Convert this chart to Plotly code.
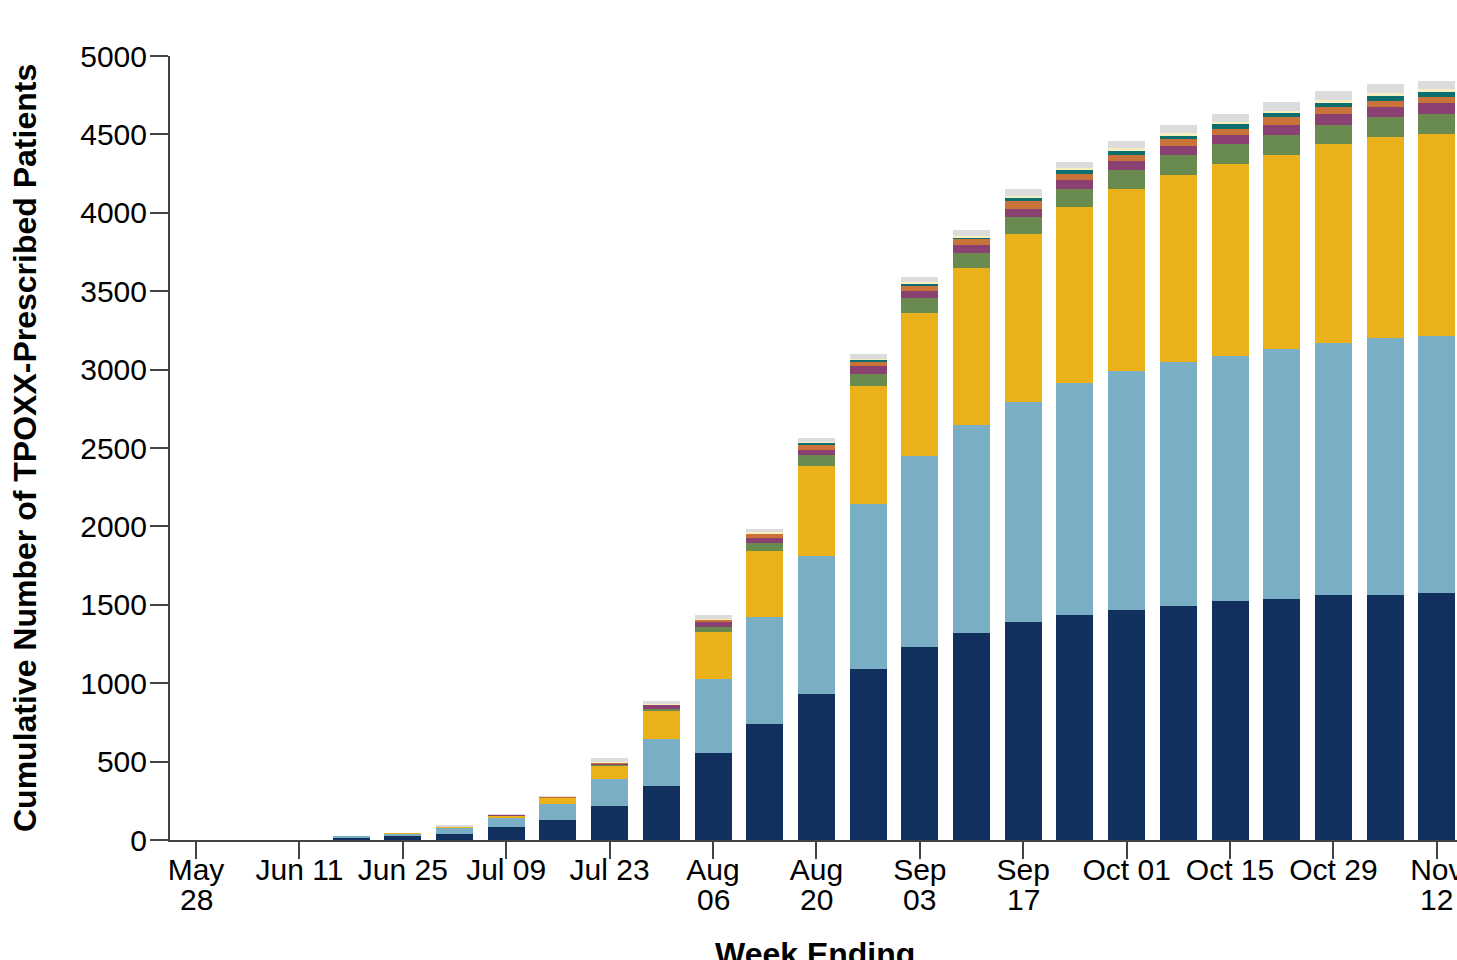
import plotly.graph_objects as go

weeks = ["2022-05-28", "2022-06-04", "2022-06-11", "2022-06-18", "2022-06-25",
         "2022-07-02", "2022-07-09", "2022-07-16", "2022-07-23", "2022-07-30",
         "2022-08-06", "2022-08-13", "2022-08-20", "2022-08-27", "2022-09-03",
         "2022-09-10", "2022-09-17", "2022-09-24", "2022-10-01", "2022-10-08",
         "2022-10-15", "2022-10-22", "2022-10-29", "2022-11-05", "2022-11-12"]

tick_weeks = weeks[::2]
tick_line1 = ["May", "Jun 11", "Jun 25", "Jul 09", "Jul 23", "Aug",
              "Aug", "Sep", "Sep", "Oct 01", "Oct 15", "Oct 29", "Nov"]
tick_line2 = ["28", "", "", "", "", "06", "20", "03", "17", "", "", "", "12"]

s1 = [0, 0, 0, 13, 30, 36, 85, 128, 217, 345, 552, 737, 929, 1088, 1228,
      1318, 1388, 1432, 1464, 1490, 1522, 1535, 1560, 1560, 1573]
s2 = [0, 0, 0, 12, 10, 42, 56, 102, 169, 301, 478, 683, 880, 1053, 1219,
      1327, 1404, 1481, 1526, 1557, 1563, 1595, 1608, 1640, 1643]
s3 = [0, 0, 0, 0, 2, 11, 17, 42, 89, 177, 299, 421, 574, 753, 913,
      1000, 1075, 1125, 1159, 1192, 1224, 1237, 1268, 1281, 1284]
s4 = [0, 0, 0, 0, 0, 0, 1, 1, 7, 14, 32, 53, 75, 81, 94,
      96, 108, 111, 122, 127, 128, 132, 122, 128, 128]
s5 = [0, 0, 0, 0, 0, 0, 1, 1, 9, 26, 29, 30, 32, 45, 46,
      51, 47, 60, 59, 58, 59, 64, 70, 64, 70]
s6 = [0, 0, 0, 0, 0, 0, 0, 1, 4, 2, 17, 31, 26, 32, 32,
      38, 53, 36, 38, 45, 40, 50, 45, 42, 42]
s7 = [0, 0, 0, 0, 0, 0, 0, 0, 0, 0, 1, 2, 16, 12, 15,
      15, 17, 28, 24, 23, 28, 28, 25, 30, 28]
s8 = [0, 0, 0, 0, 0, 0, 0, 0, 1, 3, 4, 7, 4, 2, 9,
      6, 15, 14, 19, 15, 17, 10, 22, 17, 19]
s9 = [0, 0, 0, 0, 0, 1, 2, 3, 26, 16, 21, 19, 26, 32, 32,
      38, 44, 36, 47, 53, 49, 54, 57, 59, 56]

series = [s1, s2, s3, s4, s5, s6, s7, s8, s9]
colors = ["#11305e", "#79aec4", "#ebb11a", "#6a8b4f", "#8a4070",
          "#c9733a", "#0d6e6e", "#f7efc2", "#dcdcdc"]

fig = go.Figure()
for vals, col in zip(series, colors):
    fig.add_trace(go.Bar(x=weeks, y=vals, marker=dict(color=col, line=dict(width=0)),
                         showlegend=False))

axis_col = "#444444"
font_family = "Liberation Sans, Arial, sans-serif"
W, H = 1457, 960
# plot area at page x 170..1457, y 56..840 (body margin removed via post_script)
ml, mr, mt = 170, 0, 56
ph = 784
mb = H - mt - ph
pw = W - ml - mr


def py(page_y):
    # page y pixel -> paper coordinate
    return (mt + ph - page_y) / ph


annotations = [
    dict(text="<b>Cumulative Number of TPOXX-Prescribed Patients</b>",
         xref="paper", yref="paper", x=-145 / pw, y=0.5, textangle=-90,
         xanchor="center", yanchor="middle", showarrow=False,
         font=dict(size=32, family=font_family, color="black")),
    dict(text="<b>Week Ending</b>", xref="paper", yref="paper",
         x=(815 - 170) / pw, y=py(934), xanchor="center", yanchor="top",
         showarrow=False, font=dict(size=32, family=font_family, color="black")),
]
for wk, t2 in zip(tick_weeks, tick_line2):
    if t2:
        annotations.append(dict(text=t2, xref="x", yref="paper", x=wk, y=py(900),
                                xanchor="center", yanchor="middle", showarrow=False,
                                font=dict(size=30, family=font_family, color="black")))

fig.update_layout(
    width=W, height=H,
    margin=dict(l=ml, r=mr, t=mt, b=mb, pad=0, autoexpand=False),
    barmode="stack", bargap=0.284,
    plot_bgcolor="white", paper_bgcolor="white",
    font=dict(family=font_family, size=30, color="black"),
    xaxis=dict(type="category", range=[-0.503, 24.39], automargin=False,
               tickmode="array", tickvals=tick_weeks, ticktext=tick_line1,
               ticks="outside", ticklen=17, tickwidth=2, tickcolor=axis_col,
               showline=True, linecolor=axis_col, linewidth=2,
               showgrid=False, zeroline=False, ticklabeloverflow="allow",
               ticklabelstandoff=-15,
               tickfont=dict(size=30, family=font_family, color="black")),
    yaxis=dict(range=[0, 5000], automargin=False,
               tickvals=[0, 500, 1000, 1500, 2000, 2500, 3000, 3500, 4000, 4500, 5000],
               ticks="outside", ticklen=18, tickwidth=2, tickcolor=axis_col,
               showline=True, linecolor=axis_col, linewidth=2,
               showgrid=False, zeroline=False, ticklabelstandoff=-3,
               tickfont=dict(size=30, family=font_family, color="black")),
    annotations=annotations,
    shapes=[dict(type="line", xref="paper", yref="paper", x0=-18 / pw, x1=0, y0=0, y1=0,
                 line=dict(color=axis_col, width=2))],
)

fig.write_html(
    "out.html",
    config={"displayModeBar": False},
    post_script=("document.body.style.margin='0';"
                 "document.body.style.overflow='hidden';"
                 "document.documentElement.style.overflow='hidden';"),
)
